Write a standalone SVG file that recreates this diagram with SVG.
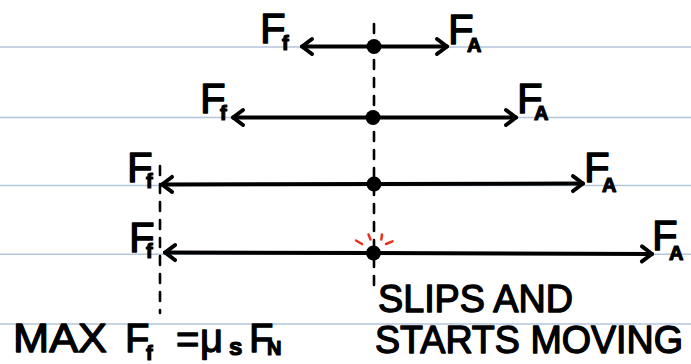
<svg xmlns="http://www.w3.org/2000/svg" width="691" height="364" viewBox="0 0 691 364">
<style>
.rule{stroke:#b3c5dc;stroke-width:1.6}
.dash{stroke:#000;stroke-width:2.6;stroke-dasharray:9 9;stroke-linecap:round}
.arr{stroke:#000;stroke-width:4;stroke-linecap:round;fill:none}
.t{font-family:"Liberation Sans",Arial,sans-serif;fill:#000;stroke:#000;stroke-width:1.3;stroke-linejoin:round}
.big{font-size:42px}
.sub{font-size:20px;font-weight:bold;stroke-width:1.2}
.lbl{font-size:40px}
.lbl2{font-size:39px;stroke-width:1.4}
.dot{fill:#000}
.spark{stroke:#e8321e;stroke-width:2.5;stroke-linecap:round}
</style>
<defs>
<marker id="head" markerUnits="userSpaceOnUse" markerWidth="24" markerHeight="24" viewBox="-14 -12 18 24" refX="0" refY="0" orient="auto" overflow="visible">
<path d="M-10,-7.5 L0,0 L-10,7.5" fill="none" stroke="#000" stroke-width="4" stroke-linecap="round" stroke-linejoin="round"/>
</marker>
</defs>
<rect width="691" height="364" fill="#fff"/>
<g id="ruled-lines">
<line class="rule" x1="0" y1="47" x2="691" y2="47"/>
<line class="rule" x1="0" y1="117.5" x2="691" y2="117.5"/>
<line class="rule" x1="0" y1="185.5" x2="691" y2="185.5"/>
<line class="rule" x1="0" y1="254.3" x2="691" y2="254.3"/>
<line class="rule" x1="0" y1="324" x2="691" y2="324"/>
</g>
<g id="guides">
<line class="dash" x1="374" y1="24" x2="374" y2="292"/>
<line class="dash" x1="160" y1="166" x2="160" y2="313"/>
</g>
<g id="connectors">
<line class="arr" x1="374" y1="46.5" x2="302" y2="46.5" marker-end="url(#head)"/>
<line class="arr" x1="374" y1="46.5" x2="447" y2="46.5" marker-end="url(#head)"/>
<line class="arr" x1="373" y1="117.5" x2="233" y2="117.5" marker-end="url(#head)"/>
<line class="arr" x1="373" y1="117.5" x2="516" y2="117.5" marker-end="url(#head)"/>
<line class="arr" x1="374" y1="184" x2="162" y2="184.5" marker-end="url(#head)"/>
<line class="arr" x1="374" y1="184" x2="583" y2="183.5" marker-end="url(#head)"/>
<line class="arr" x1="373.5" y1="253" x2="165" y2="252.5" marker-end="url(#head)"/>
<line class="arr" x1="373.5" y1="253" x2="652" y2="254" marker-end="url(#head)"/>
</g>
<g id="row1">
<circle class="dot" cx="374" cy="46.5" r="7.5"/>
<text class="t big" x="260" y="43">F<tspan class="sub" x="282" y="50">f</tspan></text>
<text class="t big" x="448" y="44">F<tspan class="sub" x="467" y="52">A</tspan></text>
</g>
<g id="row2">
<circle class="dot" cx="373" cy="117.5" r="7.5"/>
<text class="t big" x="200" y="113">F<tspan class="sub" x="220" y="120">f</tspan></text>
<text class="t big" x="517" y="113">F<tspan class="sub" x="534" y="120">A</tspan></text>
</g>
<g id="row3">
<circle class="dot" cx="374" cy="184" r="7.5"/>
<text class="t big" x="127" y="182">F<tspan class="sub" x="146" y="188">f</tspan></text>
<text class="t big" x="584" y="182">F<tspan class="sub" x="602" y="192">A</tspan></text>
</g>
<g id="row4">
<circle class="dot" cx="373.5" cy="253" r="7.5"/>
<line class="spark" x1="356" y1="240.5" x2="362" y2="244"/>
<line class="spark" x1="368.5" y1="234.5" x2="370.5" y2="239.5"/>
<line class="spark" x1="382" y1="234.5" x2="381.3" y2="239.5"/>
<line class="spark" x1="386" y1="244" x2="392.5" y2="241.3"/>
<text class="t big" x="129" y="252">F<tspan class="sub" x="146" y="258">f</tspan></text>
<text class="t big" x="652" y="250">F<tspan class="sub" x="669" y="260">A</tspan></text>
</g>
<g id="max-label">
<text class="t lbl" x="13" y="352" textLength="94" lengthAdjust="spacingAndGlyphs">MAX</text>
<text class="t lbl" x="125" y="352">F<tspan class="sub" x="146" y="360">f</tspan><tspan x="176" y="353">=</tspan><tspan x="200" y="352">μ</tspan><tspan class="sub" x="229" y="355" style="font-size:24px">s</tspan><tspan x="249" y="352">F</tspan><tspan class="sub" x="267" y="355">N</tspan></text>
</g>
<g id="slip-label">
<text class="t lbl2" x="378" y="312" textLength="195" lengthAdjust="spacingAndGlyphs">SLIPS AND</text>
<text class="t lbl2" x="375" y="353" textLength="308" lengthAdjust="spacingAndGlyphs">STARTS MOVING</text>
</g>
</svg>
